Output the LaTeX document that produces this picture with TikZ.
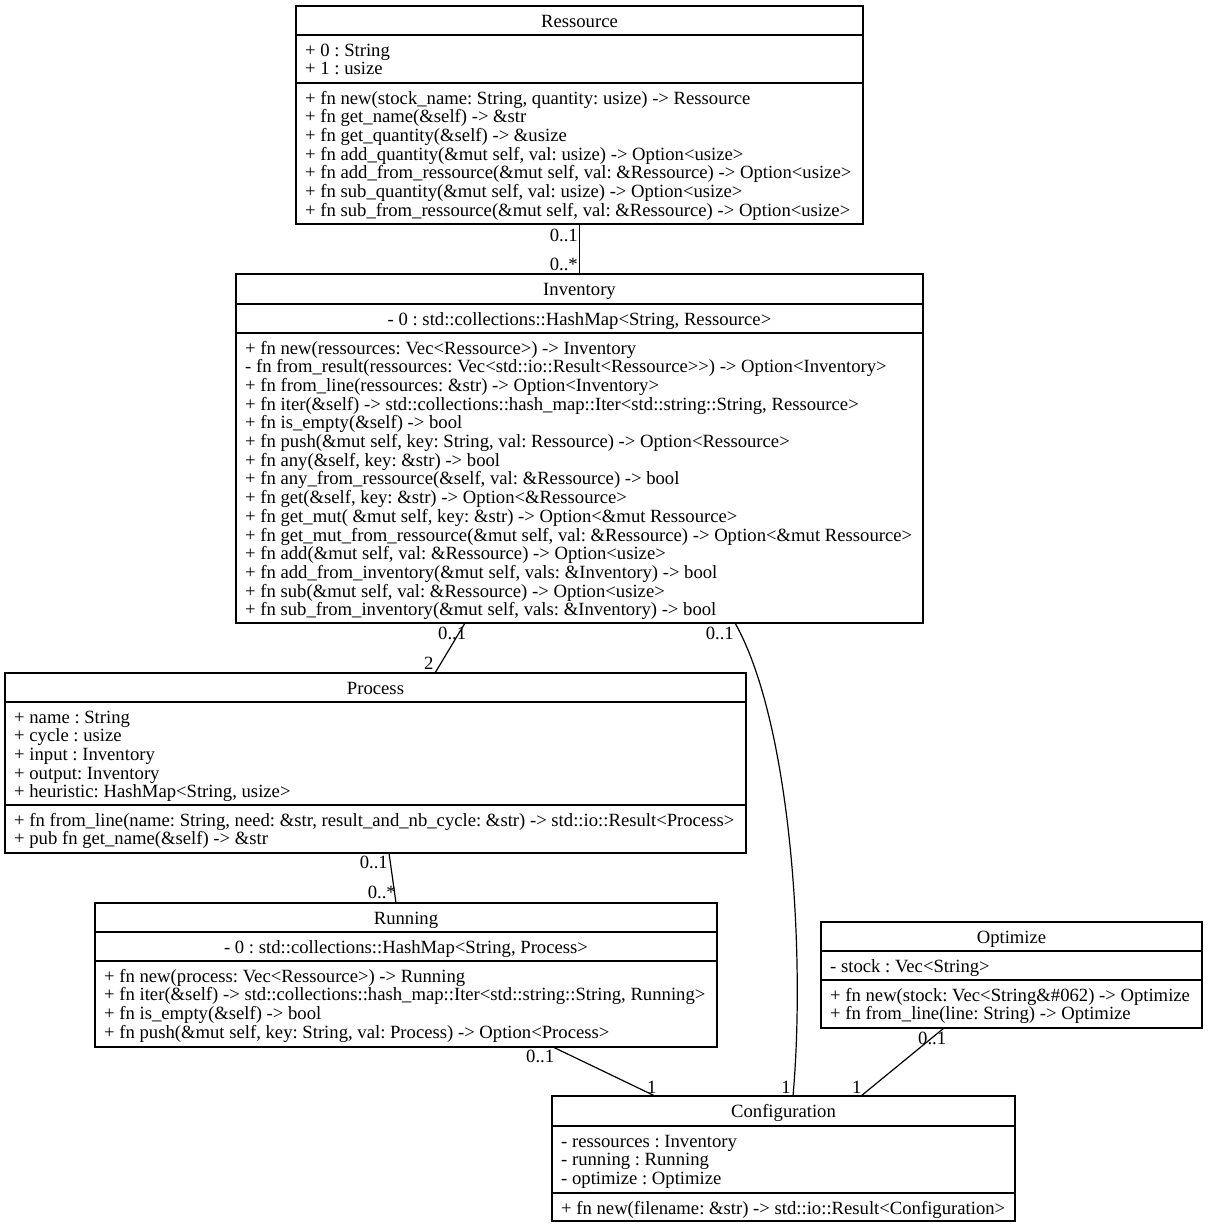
\documentclass[tikz,border=0pt]{standalone}
\usepackage{fontspec}
\setmainfont{Liberation Serif}
\newcommand\umlfont{\fontsize{18.67}{18.67}\selectfont\frenchspacing}
\tikzset{
  classbox/.style={draw, line width=1.2pt, anchor=north west, inner sep=0pt, outer sep=0pt},
  divider/.style={line width=1.2pt},
  txt/.style={inner sep=0pt, anchor=base west, font=\umlfont, yshift=-0.8pt},
  ttl/.style={inner sep=0pt, anchor=base, font=\umlfont, yshift=-0.8pt},
  lblw/.style={inner sep=0pt, anchor=base west, font=\umlfont},
  lble/.style={inner sep=0pt, anchor=base east, font=\umlfont},
  assoc/.style={line width=1.2pt}
}
\begin{document}
\begin{tikzpicture}[x=1pt, y=-1pt]
\fill[white] (0,0) rectangle (1208,1228);
\useasboundingbox (0,0) rectangle (1208,1228);

% ---------- Ressource ----------
\node[classbox, minimum width=567pt, minimum height=218pt] (ress) at (296,6) {};
\draw[divider] (296,35) -- (863,35);
\draw[divider] (296,83) -- (863,83);
\node[ttl] (ress-t) at (579.5,26.5) {Ressource};
\foreach[count=\i] \t in {{+ 0 : String},{+ 1 : usize}}
  \node[txt] (ress-a\i) at (305,{55.5+(\i-1)*18.67}) {\t};
\foreach[count=\i] \t in {
  {+ fn new(stock\_name: String, quantity: usize) -> Ressource},
  {+ fn get\_name(\&self) -> \&str},
  {+ fn get\_quantity(\&self) -> \&usize},
  {+ fn add\_quantity(\&mut self, val: usize) -> Option<usize>},
  {+ fn add\_from\_ressource(\&mut self, val: \&Ressource) -> Option<usize>},
  {+ fn sub\_quantity(\&mut self, val: usize) -> Option<usize>},
  {+ fn sub\_from\_ressource(\&mut self, val: \&Ressource) -> Option<usize>}}
  \node[txt] (ress-m\i) at (305,{103.5+(\i-1)*18.67}) {\t};

% ---------- Inventory ----------
\node[classbox, minimum width=687pt, minimum height=349pt] (inv) at (236,274) {};
\draw[divider] (236,304) -- (923,304);
\draw[divider] (236,333) -- (923,333);
\node[ttl] (inv-t) at (579.5,294.5) {Inventory};
\node[ttl] (inv-a1) at (579.5,324.5) {- 0 : std::collections::HashMap<String, Ressource>};
\foreach[count=\i] \t in {
  {+ fn new(ressources: Vec<Ressource>) -> Inventory},
  {- fn from\_result(ressources: Vec<std::io::Result<Ressource>{}>) -> Option<Inventory>},
  {+ fn from\_line(ressources: \&str) -> Option<Inventory>},
  {+ fn iter(\&self) -> std::collections::hash\_map::Iter<std::string::String, Ressource>},
  {+ fn is\_empty(\&self) -> bool},
  {+ fn push(\&mut self, key: String, val: Ressource) -> Option<Ressource>},
  {+ fn any(\&self, key: \&str) -> bool},
  {+ fn any\_from\_ressource(\&self, val: \&Ressource) -> bool},
  {+ fn get(\&self, key: \&str) -> Option<\&Ressource>},
  {+ fn get\_mut( \&mut self, key: \&str) -> Option<\&mut Ressource>},
  {+ fn get\_mut\_from\_ressource(\&mut self, val: \&Ressource) -> Option<\&mut Ressource>},
  {+ fn add(\&mut self, val: \&Ressource) -> Option<usize>},
  {+ fn add\_from\_inventory(\&mut self, vals: \&Inventory) -> bool},
  {+ fn sub(\&mut self, val: \&Ressource) -> Option<usize>},
  {+ fn sub\_from\_inventory(\&mut self, vals: \&Inventory) -> bool}}
  \node[txt] (inv-m\i) at (245,{353.5+(\i-1)*18.67}) {\t};

% ---------- Process ----------
\node[classbox, minimum width=741pt, minimum height=180pt] (proc) at (5,673) {};
\draw[divider] (5,702) -- (746,702);
\draw[divider] (5,805) -- (746,805);
\node[ttl] (proc-t) at (375.5,693.5) {Process};
\foreach[count=\i] \t in {
  {+ name : String},
  {+ cycle : usize},
  {+ input : Inventory},
  {+ output: Inventory},
  {+ heuristic: HashMap<String, usize>}}
  \node[txt] (proc-a\i) at (14,{722.5+(\i-1)*18.67}) {\t};
\foreach[count=\i] \t in {
  {+ fn from\_line(name: String, need: \&str, result\_and\_nb\_cycle: \&str) -> std::io::Result<Process>},
  {+ pub fn get\_name(\&self) -> \&str}}
  \node[txt] (proc-m\i) at (14,{825.5+(\i-1)*18.67}) {\t};

% ---------- Running ----------
\node[classbox, minimum width=622pt, minimum height=144pt] (run) at (95,903) {};
\draw[divider] (95,932) -- (717,932);
\draw[divider] (95,961) -- (717,961);
\node[ttl] (run-t) at (406,923.5) {Running};
\node[ttl] (run-a1) at (406,952.5) {- 0 : std::collections::HashMap<String, Process>};
\foreach[count=\i] \t in {
  {+ fn new(process: Vec<Ressource>) -> Running},
  {+ fn iter(\&self) -> std::collections::hash\_map::Iter<std::string::String, Running>},
  {+ fn is\_empty(\&self) -> bool},
  {+ fn push(\&mut self, key: String, val: Process) -> Option<Process>}}
  \node[txt] (run-m\i) at (104,{981.5+(\i-1)*18.67}) {\t};

% ---------- Optimize ----------
\node[classbox, minimum width=381pt, minimum height=106pt] (opt) at (821,922) {};
\draw[divider] (821,951) -- (1202,951);
\draw[divider] (821,980) -- (1202,980);
\node[ttl] (opt-t) at (1011.5,942.5) {Optimize};
\node[txt] (opt-a1) at (830,971.5) {- stock : Vec<String>};
\foreach[count=\i] \t in {
  {+ fn new(stock: Vec<String\&\#062) -> Optimize},
  {+ fn from\_line(line: String) -> Optimize}}
  \node[txt] (opt-m\i) at (830,{1000.5+(\i-1)*18.67}) {\t};

% ---------- Configuration ----------
\node[classbox, minimum width=463pt, minimum height=125pt] (conf) at (552,1096) {};
\draw[divider] (552,1126) -- (1015,1126);
\draw[divider] (552,1193) -- (1015,1193);
\node[ttl] (conf-t) at (783.5,1116.5) {Configuration};
\foreach[count=\i] \t in {
  {- ressources : Inventory},
  {- running : Running},
  {- optimize : Optimize}}
  \node[txt] (conf-a\i) at (561,{1146.5+(\i-1)*18.67}) {\t};
\node[txt] (conf-m1) at (561,1213.5) {+ fn new(filename: \&str) -> std::io::Result<Configuration>};

% ---------- associations ----------
\draw[assoc] (ress.south) -- (inv.north);
\node[lble] (l1a) at (578,241) {0..1};
\node[lble] (l1b) at (578,270) {0..*};

\draw[assoc] ([xshift=229pt]inv.south west) -- ([xshift=430pt]proc.north west);
\node[lblw] (l2a) at (438,639) {0..1};
\node[lblw] (l2b) at (424,669) {2};

\draw[assoc] ([xshift=499pt]inv.south west) .. controls (790,720) and (806,950) .. ([xshift=241pt]conf.north west);
\node[lble] (l3a) at (734,639) {0..1};
\node[lble] (l3b) at (791,1093) {1};

\draw[assoc] ([xshift=384pt]proc.south west) -- ([xshift=301pt]run.north west);
\node[lble] (l4a) at (388,868) {0..1};
\node[lble] (l4b) at (396,898) {0..*};

\draw[assoc] ([xshift=458pt]run.south west) -- ([xshift=103pt]conf.north west);
\node[lblw] (l5a) at (526,1062) {0..1};
\node[lblw] (l5b) at (647,1093) {1};

\draw[assoc] ([xshift=123pt]opt.south west) -- ([xshift=309pt]conf.north west);
\node[lblw] (l6a) at (918,1044) {0..1};
\node[lblw] (l6b) at (852,1093) {1};
\end{tikzpicture}
\end{document}
